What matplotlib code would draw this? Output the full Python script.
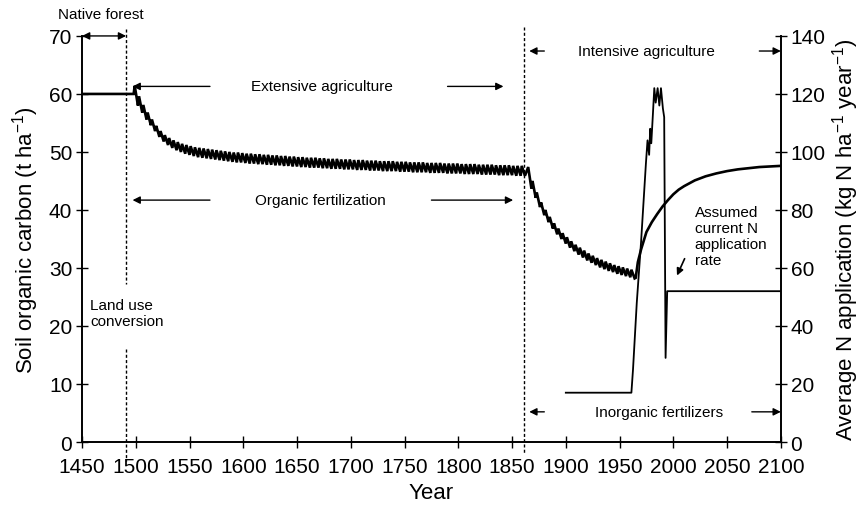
import numpy as np
import matplotlib
matplotlib.use("Agg")
from matplotlib import pyplot as plt

plt.rcParams["font.family"] = ["Liberation Sans", "DejaVu Sans"]
plt.rcParams["mathtext.fontset"] = "custom"
plt.rcParams["mathtext.rm"] = "Liberation Sans"
plt.rcParams["mathtext.it"] = "Liberation Sans:italic"
plt.rcParams["mathtext.bf"] = "Liberation Sans:bold"

# native forest, flat SOC
forest_years = [1450, 1498]
forest_soc = [60.0, 60.0]

# extensive agriculture: one tooth every 4 years (peak after application, trough before the next)
ext_years = list(range(1499, 1860, 4))
ext_peak = [
    61.4, 59.6, 58.1, 56.8, 55.6, 54.5, 53.6, 52.9, 52.4, 52.0,
    51.7, 51.4, 51.2, 51.0, 50.8, 50.7, 50.6, 50.5, 50.4, 50.3,
    50.2, 50.1, 50.0, 49.9, 49.9, 49.8, 49.7, 49.7, 49.6, 49.6,
    49.5, 49.5, 49.4, 49.4, 49.3, 49.3, 49.2, 49.2, 49.1, 49.1,
    49.0, 49.0, 49.0, 48.9, 48.9, 48.8, 48.8, 48.8, 48.7, 48.7,
    48.7, 48.6, 48.6, 48.6, 48.5, 48.5, 48.5, 48.4, 48.4, 48.4,
    48.4, 48.3, 48.3, 48.3, 48.2, 48.2, 48.2, 48.2, 48.1, 48.1,
    48.1, 48.1, 48.0, 48.0, 48.0, 48.0, 47.9, 47.9, 47.9, 47.9,
    47.8, 47.8, 47.8, 47.8, 47.7, 47.7, 47.7, 47.7, 47.6, 47.6,
    47.6,
]
ext_trough = [
    58.0, 56.8, 55.6, 54.6, 53.6, 52.6, 51.8, 51.2, 50.7, 50.3,
    50.0, 49.7, 49.5, 49.3, 49.1, 49.0, 48.9, 48.8, 48.7, 48.6,
    48.5, 48.4, 48.3, 48.2, 48.2, 48.1, 48.0, 48.0, 47.9, 47.9,
    47.8, 47.8, 47.7, 47.7, 47.6, 47.6, 47.5, 47.5, 47.4, 47.4,
    47.3, 47.3, 47.3, 47.2, 47.2, 47.1, 47.1, 47.1, 47.0, 47.0,
    47.0, 46.9, 46.9, 46.9, 46.8, 46.8, 46.8, 46.7, 46.7, 46.7,
    46.7, 46.6, 46.6, 46.6, 46.5, 46.5, 46.5, 46.5, 46.4, 46.4,
    46.4, 46.4, 46.3, 46.3, 46.3, 46.3, 46.2, 46.2, 46.2, 46.2,
    46.1, 46.1, 46.1, 46.1, 46.0, 46.0, 46.0, 46.0, 45.9, 45.9,
    45.9,
]

# intensive agriculture, organic inputs still in 4-year cycles
int_years = list(range(1865, 1962, 4))
int_peak = [
    47.4, 45.0, 43.0, 41.3, 40.0, 38.8, 37.7, 36.8, 36.0, 35.3,
    34.6, 34.0, 33.5, 33.0, 32.5, 32.1, 31.7, 31.4, 31.1, 30.8,
    30.5, 30.3, 30.1, 29.9, 29.7,
]
int_trough = [
    43.7, 42.1, 40.5, 39.1, 37.9, 36.8, 35.8, 35.0, 34.2, 33.5,
    32.9, 32.3, 31.8, 31.3, 30.9, 30.5, 30.1, 29.8, 29.5, 29.3,
    29.0, 28.8, 28.6, 28.4, 28.2,
]

# recovery under inorganic fertilizers
rec_years = [1965, 1967, 1970, 1975, 1980, 1985, 1990, 1995, 2000, 2005,
             2010, 2015, 2020, 2030, 2040, 2050, 2060, 2070, 2080, 2090, 2100]
rec_soc = [28.3, 31.0, 33.2, 36.2, 37.9, 39.3, 40.6, 41.7, 42.7, 43.5,
           44.1, 44.6, 45.1, 45.8, 46.3, 46.7, 47.0, 47.2, 47.4, 47.5, 47.6]

# average N application (right axis)
n_years = [1900, 1961, 1962.5, 1966, 1970, 1974.5, 1976, 1977.5, 1978.5, 1979.5,
           1981, 1982.3, 1983.6, 1985.4, 1987, 1988.5, 1990.3, 1991.5, 1992.8,
           1994.3, 2100]
n_rate = [17, 17, 25, 48, 69, 96, 104, 99, 108, 103,
          113, 122, 117, 122, 116, 122, 115, 112, 29,
          52, 52]

x_ticks = list(range(1450, 2101, 50))
soc_ticks = list(range(0, 71, 10))
n_ticks = list(range(0, 141, 20))

# assemble the SOC path
soc_x = list(forest_years)
soc_y = list(forest_soc)
for t, p, tr in zip(ext_years, ext_peak, ext_trough):
    soc_x += [t, t + 3]
    soc_y += [p, tr]
for t, p, tr in zip(int_years, int_peak, int_trough):
    soc_x += [t, t + 3]
    soc_y += [p, tr]
soc_x += rec_years
soc_y += rec_soc

fig = plt.figure(figsize=(8.59, 5.06), dpi=100)
ax = fig.add_axes([0.0955, 0.1245, 0.8135, 0.8025])
ax2 = ax.twinx()

ax.plot(soc_x, soc_y, color="black", lw=1.9, solid_joinstyle="miter")
ax2.plot(n_years, n_rate, color="black", lw=1.3)

ax.set_xlim(1450, 2100)
ax.set_ylim(0, 70)
ax2.set_ylim(0, 140)
ax.set_xticks(x_ticks)
ax.set_yticks(soc_ticks)
ax2.set_yticks(n_ticks)

for a in (ax, ax2):
    a.spines["top"].set_visible(False)
    for s in a.spines.values():
        s.set_linewidth(1.4)
ax.spines["right"].set_visible(False)
ax2.spines["left"].set_visible(False)
ax2.spines["bottom"].set_visible(False)

ax.tick_params(axis="y", direction="inout", length=8, width=1, labelsize=15, pad=3)
ax.tick_params(axis="x", direction="inout", length=8, width=1, labelsize=15, pad=7)
ax2.tick_params(axis="y", direction="inout", length=8, width=1, labelsize=15, pad=3)

ax.set_xlabel("Year", fontsize=16, labelpad=4)
ax.set_ylabel("Soil organic carbon (t ha$^{-1}$)", fontsize=16, labelpad=6)
ax2.set_ylabel("Average N application (kg N ha$^{-1}$ year$^{-1}$)", fontsize=16, labelpad=3)

# land use change boundaries
dash = (0, (2.2, 1.6))
ax.plot([1491, 1491], [71.2, 27.2], color="black", lw=1, linestyle=dash, clip_on=False)
ax.plot([1491, 1491], [16.0, -3.3], color="black", lw=1, linestyle=dash, clip_on=False)
ax.plot([1861, 1861], [71.5, -2.0], color="black", lw=1, linestyle=dash, clip_on=False)

fs = 11
arrow = dict(arrowstyle="-|>", color="black", lw=1, mutation_scale=11, shrinkA=0, shrinkB=0)
both = dict(arrowstyle="<|-|>", color="black", lw=1, mutation_scale=11, shrinkA=0, shrinkB=0)

ax.text(1467.5, 73.8, "Native forest", fontsize=fs, ha="center", va="center")
ax.annotate("", xy=(1491, 70), xytext=(1450, 70), arrowprops=both, annotation_clip=False)

ax.text(1673, 61.3, "Extensive agriculture", fontsize=fs, ha="center", va="center")
ax.annotate("", xy=(1497, 61.3), xytext=(1569, 61.3), arrowprops=arrow)
ax.annotate("", xy=(1842, 61.3), xytext=(1790, 61.3), arrowprops=arrow)

ax.text(1672, 41.7, "Organic fertilization", fontsize=fs, ha="center", va="center")
ax.annotate("", xy=(1497, 41.7), xytext=(1569, 41.7), arrowprops=arrow)
ax.annotate("", xy=(1851, 41.7), xytext=(1775, 41.7), arrowprops=arrow)

ax.text(1975, 67.4, "Intensive agriculture", fontsize=fs, ha="center", va="center")
ax.annotate("", xy=(1866, 67.4), xytext=(1880, 67.4), arrowprops=arrow)
ax.annotate("", xy=(2100, 67.4), xytext=(2080, 67.4), arrowprops=arrow, annotation_clip=False)

ax.text(1987, 5.2, "Inorganic fertilizers", fontsize=fs, ha="center", va="center")
ax.annotate("", xy=(1866, 5.2), xytext=(1880, 5.2), arrowprops=arrow)
ax.annotate("", xy=(2100, 5.2), xytext=(2073, 5.2), arrowprops=arrow, annotation_clip=False)

ax.text(2020, 40.9, "Assumed\ncurrent N\napplication\nrate", fontsize=fs, ha="left", va="top",
        linespacing=1.2)
ax.annotate("", xy=(2003.4, 28.7), xytext=(2010.5, 31.6),
            arrowprops=dict(arrowstyle="-|>", color="black", lw=1.2, mutation_scale=10,
                            shrinkA=0, shrinkB=0))

ax.text(1457.5, 24.8, "Land use\nconversion", fontsize=fs, ha="left", va="top", linespacing=1.2)

fig.savefig("out.png", dpi=100)
